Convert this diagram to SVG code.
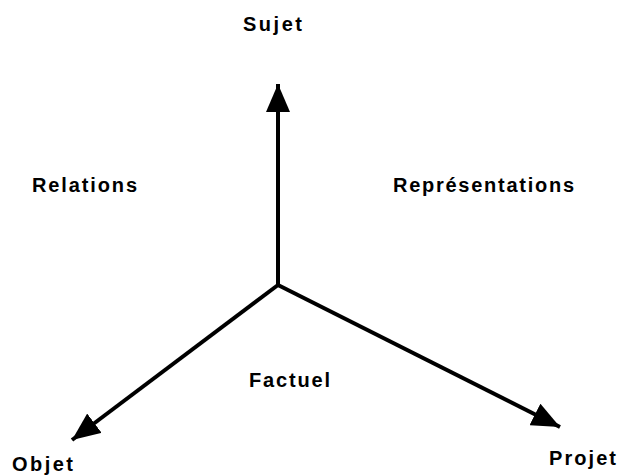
<svg xmlns="http://www.w3.org/2000/svg" width="621" height="475" viewBox="0 0 621 475">
<style>
.lbl{font-family:"Liberation Sans",Arial,sans-serif;font-weight:bold;font-size:20px;fill:#000}
.ax{stroke:#000;stroke-width:4;fill:none}
</style>
<defs>
<marker id="ah" markerUnits="userSpaceOnUse" markerWidth="30" markerHeight="24" refX="28" refY="12" orient="auto">
<path d="M0,0 L28,12 L0,24 z" fill="#000"/>
</marker>
</defs>
<rect width="621" height="475" fill="#fff"/>
<g id="connectors">
<line class="ax" x1="278" y1="285" x2="278" y2="84" marker-end="url(#ah)"/>
<line class="ax" x1="278" y1="285" x2="72" y2="440" marker-end="url(#ah)"/>
<line class="ax" x1="278" y1="285" x2="560" y2="427" marker-end="url(#ah)"/>
</g>
<g id="sujet"><text class="lbl" x="243" y="31" textLength="59" lengthAdjust="spacing">Sujet</text></g>
<g id="relations"><text class="lbl" x="32" y="192" textLength="105" lengthAdjust="spacing">Relations</text></g>
<g id="representations"><text class="lbl" x="393" y="192" textLength="181" lengthAdjust="spacing">Représentations</text></g>
<g id="factuel"><text class="lbl" x="249" y="387" textLength="81" lengthAdjust="spacing">Factuel</text></g>
<g id="objet"><text class="lbl" x="12" y="471" textLength="61" lengthAdjust="spacing">Objet</text></g>
<g id="projet"><text class="lbl" x="549" y="465" textLength="67" lengthAdjust="spacing">Projet</text></g>
</svg>
